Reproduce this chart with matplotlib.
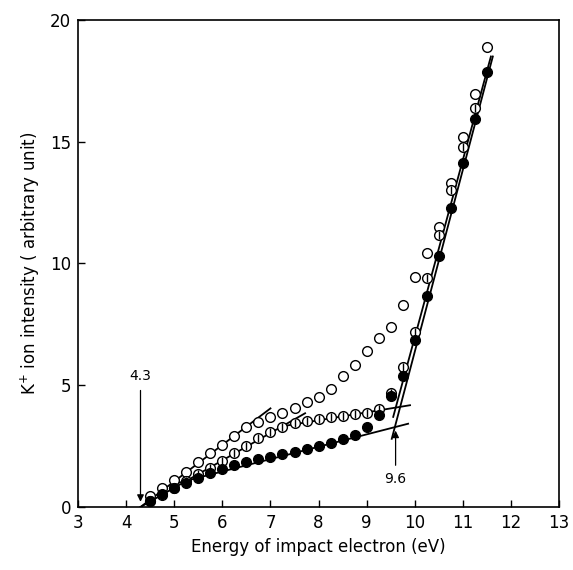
import matplotlib
matplotlib.use("Agg")
import matplotlib.pyplot as plt

# electron energy (eV) for every measured point
energy = [4.5, 4.75, 5.0, 5.25, 5.5, 5.75, 6.0, 6.25, 6.5, 6.75, 7.0, 7.25,
          7.5, 7.75, 8.0, 8.25, 8.5, 8.75, 9.0, 9.25, 9.5, 9.75, 10.0, 10.25,
          10.5, 10.75, 11.0, 11.25, 11.5]

# open circles
open_y = [0.45, 0.8, 1.1, 1.45, 1.85, 2.2, 2.55, 2.9, 3.3, 3.5, 3.7, 3.87,
          4.07, 4.3, 4.5, 4.86, 5.38, 5.82, 6.42, 6.95, 7.4, 8.3, 9.45, 10.45,
          11.5, 13.3, 15.2, 16.95, 18.9]

# half filled circles (no point at 11.5)
half_x = energy[:-1]
half_y = [0.25, 0.5, 0.8, 1.05, 1.35, 1.6, 1.9, 2.2, 2.5, 2.85, 3.08, 3.3,
          3.45, 3.54, 3.6, 3.68, 3.75, 3.81, 3.87, 4.02, 4.7, 5.76, 7.2, 9.39,
          11.17, 13.02, 14.8, 16.37]

# filled circles
full_y = [0.25, 0.55, 0.8, 1.0, 1.2, 1.4, 1.58, 1.72, 1.86, 1.98, 2.07, 2.17,
          2.25, 2.4, 2.52, 2.64, 2.78, 2.95, 3.3, 3.78, 4.55, 5.4, 6.86, 8.67,
          10.3, 12.27, 14.14, 15.92, 17.88]

# fitted straight lines (end points)
fit_lines = [
    ([4.3, 7.0], [0.0, 4.05]),      # open, onset
    ([4.3, 7.72], [0.0, 3.85]),     # half, onset
    ([7.2, 9.9], [3.3, 4.18]),      # half, plateau
    ([5.0, 9.86], [0.95, 3.42]),    # filled, plateau
    ([9.55, 11.58], [3.7, 18.5]),   # half, steep
    ([9.52, 11.62], [2.8, 18.5]),   # filled, steep
]

fig = plt.figure(figsize=(5.73, 5.70), dpi=100)
ax = fig.add_axes([0.136, 0.1105, 0.84, 0.8545])

for xs, ys in fit_lines:
    ax.plot(xs, ys, color="black", lw=1.3, zorder=2)

ms = 7
ax.plot(energy, open_y, "o", ms=ms, mfc="white", mec="black", mew=1.0, zorder=3)
ax.plot(half_x, half_y, "o", ms=ms, mfc="white", mec="black", mew=1.0, zorder=4)
ax.plot(half_x, half_y, "|", ms=ms - 1, mec="black", mew=1.0, zorder=5)
ax.plot(energy, full_y, "o", ms=ms, mfc="black", mec="black", mew=1.0, zorder=6)

# onset / kink annotations
ax.annotate("", xy=(4.3, 0.1), xytext=(4.3, 4.9),
            arrowprops=dict(arrowstyle="-|>", color="black", lw=0.9,
                            mutation_scale=10))
ax.text(4.3, 5.1, "4.3", ha="center", va="bottom", fontsize=10)
ax.annotate("", xy=(9.6, 3.25), xytext=(9.6, 1.6),
            arrowprops=dict(arrowstyle="-|>", color="black", lw=0.9,
                            mutation_scale=10))
ax.text(9.6, 1.45, "9.6", ha="center", va="top", fontsize=10)

ax.set_xlim(3, 13)
ax.set_ylim(0, 20)
ax.set_xticks(range(3, 14))
ax.set_yticks([0, 5, 10, 15, 20])
ax.tick_params(direction="in", length=5, width=1.0, labelsize=12, pad=5)
for s in ax.spines.values():
    s.set_linewidth(1.2)

ax.set_xlabel("Energy of impact electron (eV)", fontsize=12, labelpad=4)
ax.set_ylabel("K$^{+}$ ion intensity ( arbitrary unit)", fontsize=12, labelpad=6)

fig.savefig("out.png", dpi=100)
